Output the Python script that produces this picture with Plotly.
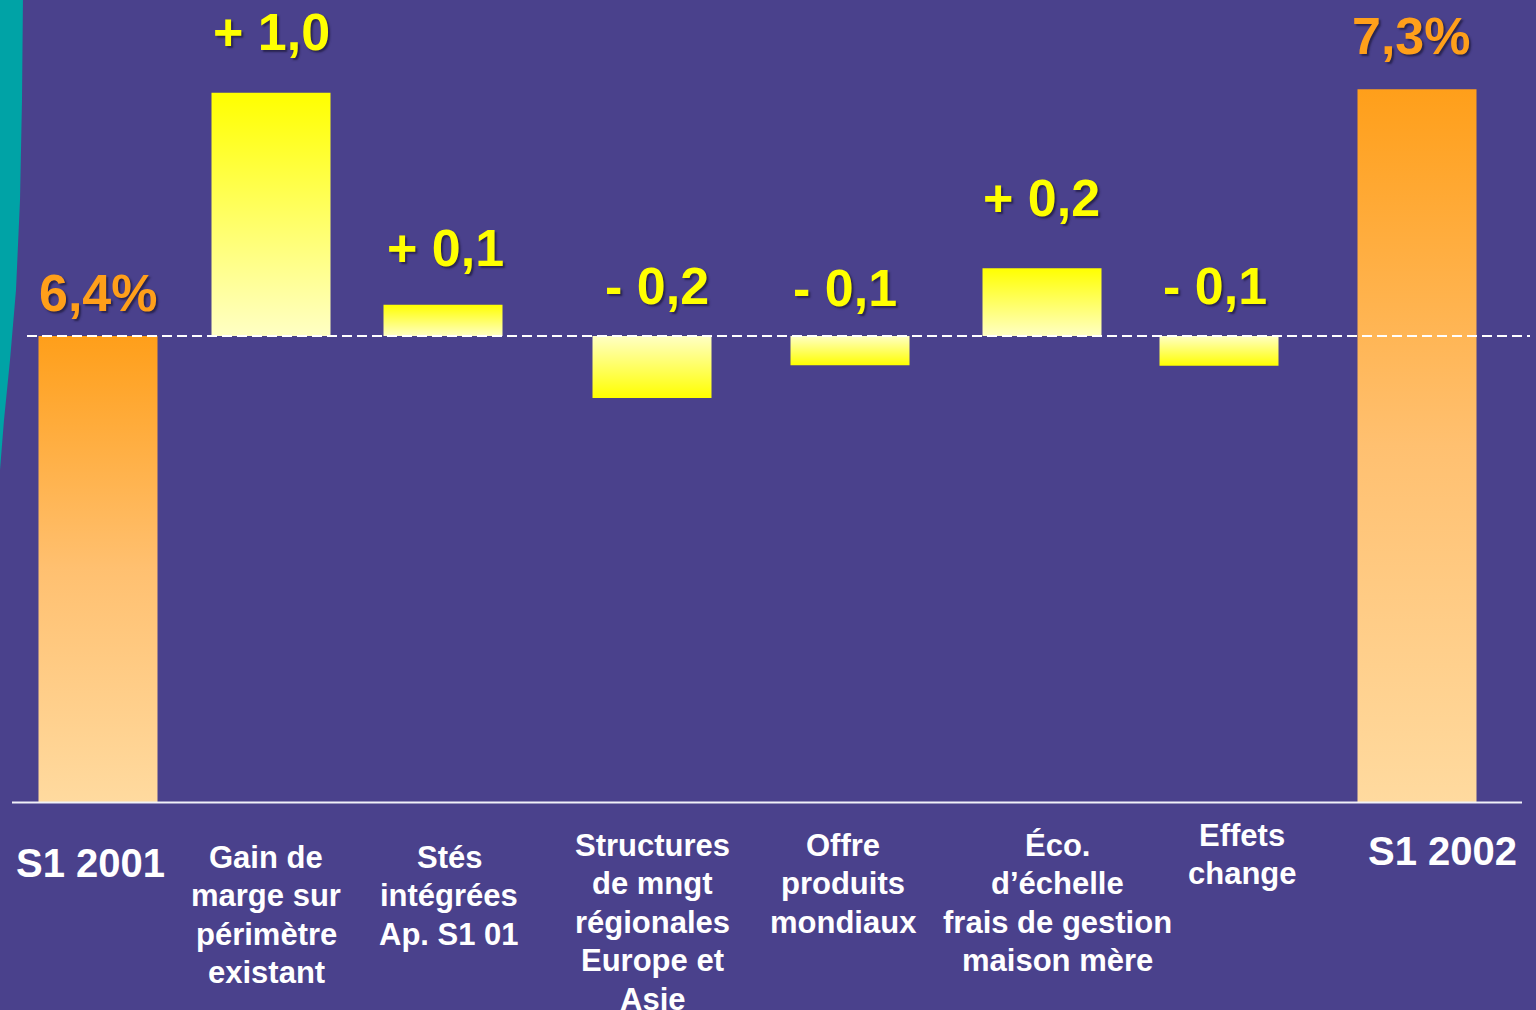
import plotly.graph_objects as go

# ---------------- data ----------------
categories = ["S1 2001", "Gain de marge sur périmètre existant", "Stés intégrées Ap. S1 01",
              "Structures de mngt régionales Europe et Asie", "Offre produits mondiaux",
              "Éco. d’échelle frais de gestion maison mère", "Effets change", "S1 2002"]
category_lines = [["S1 2001"],
                  ["Gain de", "marge sur", "périmètre", "existant"],
                  ["Stés", "intégrées", "Ap. S1 01"],
                  ["Structures", "de mngt", "régionales", "Europe et", "Asie"],
                  ["Offre", "produits", "mondiaux"],
                  ["Éco.", "d’échelle", "frais de gestion", "maison mère"],
                  ["Effets", "change"],
                  ["S1 2002"]]
label_values = [6.4, 1.0, 0.1, -0.2, -0.1, 0.2, -0.1, 7.3]   # values printed on the slide
kinds = ["total", "delta", "delta", "delta", "delta", "delta", "delta", "total"]
# bar extents as drawn on the slide (not to scale), in % units of the first bar
drawn_start = 6.4
drawn_deltas = [3.34, 0.43, -0.85, -0.40, 0.93, -0.41]
drawn_end = 9.79

# ---------------- layout constants ----------------
W, H = 1536, 1010
BG = "#4A418C"
K = 72.8125          # px per unit
Y0 = 802             # px of zero line
bar_x = [98, 271, 443, 652, 850, 1042, 1219, 1417]
bar_w = 119
FONT = "Liberation Sans, Arial, sans-serif"

def py(px):
    return (Y0 - px) / K

fig = go.Figure()

# bar extents
bases, tops = [], []
bases.append(0); tops.append(drawn_start)
for d in drawn_deltas:
    bases.append(drawn_start); tops.append(drawn_start + d)
bases.append(0); tops.append(drawn_end)

ORANGE = [[0, "#FFDA9F"], [0.5, "#FFC070"], [1, "#FF9F1A"]]
for i, (b, t) in enumerate(zip(bases, tops)):
    x0, x1 = bar_x[i] - bar_w / 2, bar_x[i] + bar_w / 2
    lo, hi = min(b, t), max(b, t)
    if kinds[i] == "total":
        cs = ORANGE
    elif t > b:
        cs = [[0, "#FFFFC4"], [1, "#FFFF00"]]
    else:
        cs = [[0, "#FFFF00"], [1, "#FFFFC4"]]
    fig.add_trace(go.Scatter(
        x=[x0, x1, x1, x0, x0], y=[lo, lo, hi, hi, lo],
        mode="lines", line=dict(width=0), fill="toself",
        fillgradient=dict(type="vertical", colorscale=cs, start=lo, stop=hi),
        hoverinfo="skip", showlegend=False, name=categories[i]))

# value labels
label_pos = [(98, 293), (271, 32), (445, 248), (657, 286), (845, 288), (1041, 198), (1215, 286), (1411, 36)]
for i, v in enumerate(label_values):
    s = f"{abs(v):.1f}".replace(".", ",")
    if kinds[i] == "total":
        txt, col = s + "%", "#FF9F1A"
    else:
        txt, col = ("+ " if v > 0 else "- ") + s, "#FFFF00"
    x, y = label_pos[i]
    fig.add_annotation(x=x, y=py(y), text=f"<b>{txt}</b>", showarrow=False,
                       xanchor="center", yanchor="middle",
                       font=dict(family=FONT, size=52, color=col,
                                 shadow="2px 2px 2px rgba(35,30,70,0.85)"))

# category labels
cat_pos = [(90, 863), (266, 857), (449, 857), (652, 845), (843, 845), (1057, 845), (1242, 835), (1442, 851)]
LS = 38.5
for i, lines in enumerate(category_lines):
    x, y = cat_pos[i]
    size = 40 if kinds[i] == "total" else 31
    for j, ln in enumerate(lines):
        fig.add_annotation(x=x, y=py(y + j * LS), text=f"<b>{ln}</b>", showarrow=False,
                           xanchor="center", yanchor="middle",
                           font=dict(family=FONT, size=size, color="white"))

# teal decoration at left edge
teal_pts = [(0, -5), (23, -5), (22, 100), (20, 200), (16, 290), (10, 360), (4, 420), (0, 470)]
path = "M " + " L ".join(f"{x},{py(y)}" for x, y in teal_pts) + " Z"
fig.add_shape(type="path", path=path, fillcolor="#00A3A6", line=dict(width=0), layer="below")

# baseline (dashed) and axis line
fig.add_shape(type="line", x0=27, x1=1530, y0=drawn_start, y1=drawn_start,
              line=dict(color="white", width=2, dash="10px,5px"), layer="above")
fig.add_shape(type="line", x0=12, x1=1522, y0=py(802.5), y1=py(802.5),
              line=dict(color="#F0F0F8", width=2), layer="above")

fig.update_layout(
    width=W, height=H, margin=dict(l=0, r=0, t=0, b=0),
    paper_bgcolor=BG, plot_bgcolor=BG, showlegend=False,
    xaxis=dict(range=[0, W], visible=False, fixedrange=True),
    yaxis=dict(range=[py(H), py(0)], visible=False, fixedrange=True),
)

fig.write_html("out.html", config={"displayModeBar": False})
